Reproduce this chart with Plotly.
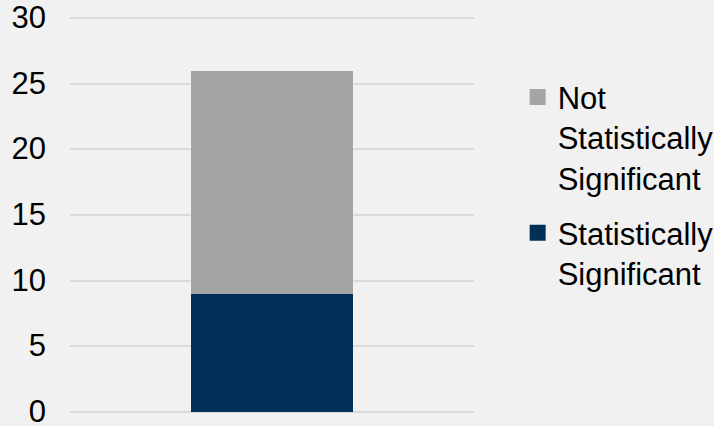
import plotly.graph_objects as go

# данные: одна колонка, два сегмента
categories = [""]
sig_values = [9]
not_sig_values = [17]
series_names = ["Statistically<br>Significant", "Not<br>Statistically<br>Significant"]
colors = ["#003057", "#a5a5a5"]
y_ticks = [0, 5, 10, 15, 20, 25, 30]

fig = go.Figure()

# столбцы (без легенды)
fig.add_trace(go.Bar(x=categories, y=sig_values, marker=dict(color=colors[0], line=dict(width=0)),
                     width=0.4, showlegend=False))
fig.add_trace(go.Bar(x=categories, y=not_sig_values, marker=dict(color=colors[1], line=dict(width=0)),
                     width=0.4, showlegend=False))

# легенда - квадратные маркеры
fig.add_trace(go.Scatter(x=[None], y=[None], mode='markers', name=series_names[1], legendgroup='b',
                         marker=dict(symbol='square', size=16, color=colors[1]), legendrank=1))
fig.add_trace(go.Scatter(x=[None], y=[None], mode='markers', name=series_names[0], legendgroup='a',
                         marker=dict(symbol='square', size=16, color=colors[0]), legendrank=2))

fig.update_layout(
    width=714, height=426,
    barmode='stack',
    paper_bgcolor='#f1f1f1', plot_bgcolor='#f1f1f1',
    margin=dict(l=70, r=240, t=16, b=12, autoexpand=False),
    font=dict(family='Liberation Sans, Arial, sans-serif', size=31, color='#000000'),
    xaxis=dict(showticklabels=False, showgrid=False, zeroline=False, range=[-0.5, 0.5]),
    yaxis=dict(range=[-0.15, 30.15], tickvals=y_ticks, showgrid=True, gridcolor='#d9d9d9', gridwidth=2,
               zeroline=False, showline=False, ticklabelstandoff=23, automargin=False,
               ticklabeloverflow='allow', ticklabelshift=-1),
    legend=dict(xref='container', yref='container', x=0.725, y=0.835, xanchor='left', yanchor='top',
                valign='top', font=dict(size=31), tracegroupgap=12, itemwidth=30,
                maxheight=380, bgcolor='rgba(0,0,0,0)'),
)

# убираем отступ body, чтобы график стоял ровно в окне
fig.write_html("out.html", config={'displayModeBar': False},
               post_script="document.body.style.margin='0';")
